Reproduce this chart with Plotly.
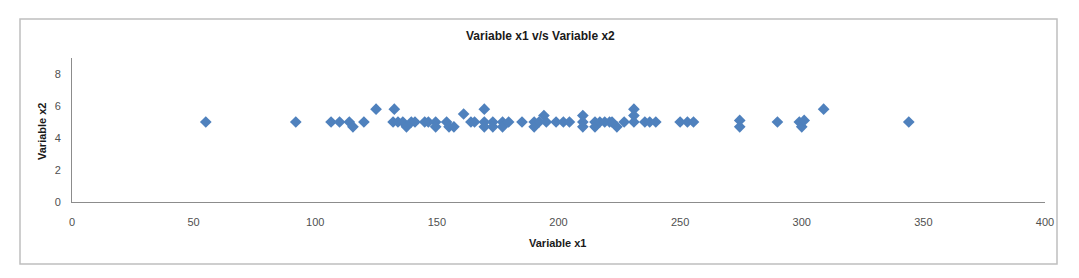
import plotly.graph_objects as go

x1 = [55, 92, 106.5, 110, 114, 115.5, 120, 125, 132.5, 132, 134, 136, 137.5, 139.5, 141,
      145, 146.5, 149.5, 149.5, 154, 155, 157, 161, 164, 165.5, 169.5, 169.5, 169.5,
      173, 173, 177, 177, 179.5, 185, 190, 190, 192, 194, 195, 199, 202, 204.5,
      210, 210, 210, 215, 215, 217, 219, 221, 222, 224, 227, 231, 231, 231,
      235.5, 237.5, 240, 250, 253, 255.5, 274.5, 274.5, 290, 299, 300, 301, 309, 344]
x2 = [5, 5, 5, 5, 5, 4.7, 5, 5.8, 5.8, 5, 5, 5, 4.7, 5, 5,
      5, 5, 5, 4.7, 5, 4.7, 4.7, 5.5, 5, 5, 5.8, 5, 4.7,
      5, 4.7, 5, 4.7, 5, 5, 5, 4.7, 5, 5.4, 5, 5, 5, 5,
      5.4, 5, 4.7, 5, 4.7, 5, 5, 5, 5, 4.7, 5, 5.8, 5.4, 5,
      5, 5, 5, 5, 5, 5, 5.1, 4.7, 5, 5, 4.7, 5.1, 5.8, 5]

x_ticks = [0, 50, 100, 150, 200, 250, 300, 350, 400]
y_ticks = [0, 2, 4, 6, 8]

FONT = "Liberation Sans Narrow, Liberation Sans, Arial"

fig = go.Figure(go.Scatter(
    x=x1, y=x2, mode="markers",
    marker=dict(symbol="diamond", size=9, color="#4F81BD",
                line=dict(width=0)),
    showlegend=False,
))

L, R, T, B = 72, 1045, 58, 202
W, H = 1079, 278
pw, ph = R - L, B - T

def px(p):
    return (p - L) / pw

def py(p):
    return (B - p) / ph

fig.update_layout(
    width=W, height=H,
    margin=dict(l=L, r=W - R, t=T, b=H - B),
    paper_bgcolor="white", plot_bgcolor="white",
    font=dict(family=FONT, size=11, color="#505050"),
    xaxis=dict(range=[0, 400], tickvals=x_ticks, showgrid=False, zeroline=False,
               showline=True, linecolor="#8c8c8c", linewidth=1,
               ticks="", tickfont=dict(size=11, color="#505050"), ticklabelstandoff=10),
    yaxis=dict(range=[0, 9], tickvals=y_ticks, showgrid=False, zeroline=False,
               showline=True, linecolor="#8c8c8c", linewidth=1,
               ticks="", tickfont=dict(size=11, color="#505050"), ticklabelstandoff=8),
    shapes=[dict(type="rect", xref="paper", yref="paper",
                 x0=px(20), x1=px(1057), y0=py(264), y1=py(19),
                 line=dict(color="#bfbfbf", width=1.5), fillcolor="rgba(0,0,0,0)",
                 layer="below")],
    annotations=[
        dict(text="<b>Variable x1 v/s Variable x2</b>", xref="paper", yref="paper",
             x=px(540), y=py(36), showarrow=False, xanchor="center", yanchor="middle",
             font=dict(family=FONT, size=12, color="#1a1a1a")),
        dict(text="<b>Variable x1</b>", xref="paper", yref="paper",
             x=px(558), y=py(243), showarrow=False, xanchor="center", yanchor="middle",
             font=dict(family=FONT, size=11, color="#1a1a1a")),
        dict(text="<b>Variable x2</b>", xref="paper", yref="paper",
             x=px(42), y=py(131), showarrow=False, xanchor="center", yanchor="middle",
             textangle=-90, font=dict(family=FONT, size=11, color="#1a1a1a")),
    ],
)

fig.write_html("out.html")
